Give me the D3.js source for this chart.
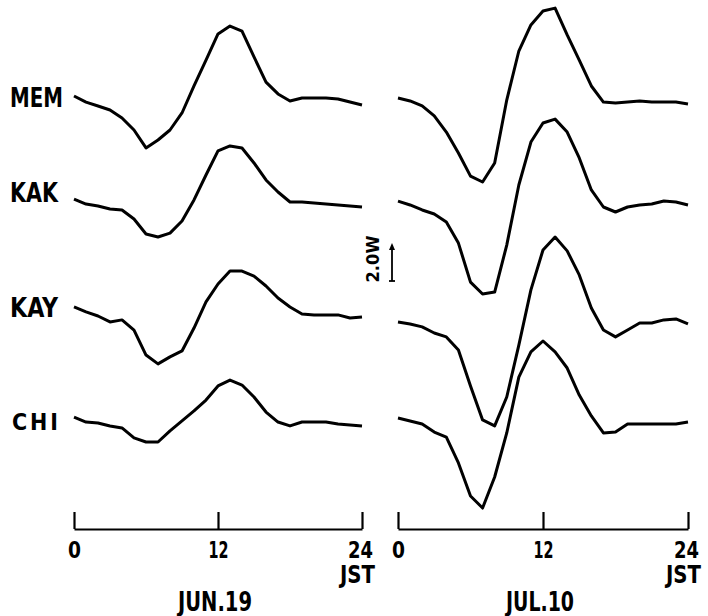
<!DOCTYPE html>
<html>
<head>
<meta charset="utf-8">
<script src="https://cdn.jsdelivr.net/npm/d3@7"></script>
<style>
  body { margin: 0; background: #fff; }
  svg { display: block; }
  .lbl { font-family: "DejaVu Sans Condensed", "DejaVu Sans", sans-serif; font-weight: bold; fill: #000; }
  .axis path, .axis line { stroke: #000; stroke-width: 2.2; }
</style>
</head>
<body>
<svg></svg>
<script>
const hours = [0, 1, 2, 3, 4, 5, 6, 7, 8, 9, 10, 11, 12, 13, 14, 15, 16, 17, 18, 19, 20, 21, 22, 23, 24];
const stations = ['MEM', 'KAK', 'KAY', 'CHI'];
const hourTicks = [0, 12, 24];
const days = ['JUN.19', 'JUL.10'];

// deviations in W, read hour by hour
const jun19MEM = [0.11, -0.22, -0.43, -0.65, -1.08, -1.73, -2.70, -2.27, -1.73, -0.81, 0.65, 2.05, 3.46, 3.89, 3.62, 2.22, 0.86, 0.22, -0.16, 0, 0, 0, -0.05, -0.22, -0.38];
const jun19KAK = [0.34, 0.07, -0.04, -0.20, -0.25, -0.74, -1.55, -1.71, -1.50, -0.85, 0.29, 1.64, 2.94, 3.21, 3.10, 2.29, 1.37, 0.72, 0.18, 0.18, 0.12, 0.07, 0.02, -0.04, -0.09];
const jun19KAY = [0.31, 0.04, -0.18, -0.50, -0.39, -0.94, -2.29, -2.77, -2.39, -2.07, -0.83, 0.58, 1.55, 2.25, 2.25, 1.98, 1.44, 0.79, 0.31, -0.07, -0.12, -0.12, -0.12, -0.29, -0.23];
const jun19CHI = [0.16, -0.11, -0.16, -0.32, -0.43, -0.97, -1.19, -1.19, -0.59, -0.05, 0.49, 1.08, 1.84, 2.16, 1.89, 1.24, 0.43, -0.11, -0.32, -0.11, -0.11, -0.11, -0.22, -0.27, -0.32];

const jul10MEM = [0, -0.16, -0.43, -0.97, -1.84, -2.97, -4.22, -4.54, -3.51, -0.11, 2.54, 3.95, 4.70, 4.86, 3.41, 2.05, 0.65, -0.22, -0.27, -0.22, -0.16, -0.22, -0.22, -0.22, -0.32];
const jul10KAK = [0.23, 0.02, -0.25, -0.47, -0.90, -2.04, -4.15, -4.79, -4.69, -2.15, 1.10, 3.42, 4.45, 4.66, 3.96, 2.56, 0.83, -0.09, -0.36, -0.09, 0.02, 0.07, 0.23, 0.18, 0.02];
const jul10KAY = [-0.50, -0.61, -0.77, -1.10, -1.31, -2.02, -3.96, -5.80, -6.12, -4.56, -1.75, 1.23, 3.39, 4.09, 3.34, 2.04, 0.25, -0.94, -1.31, -0.94, -0.56, -0.56, -0.39, -0.34, -0.61];
const jul10CHI = [0.11, -0.05, -0.22, -0.65, -0.92, -2.32, -4.11, -4.76, -3.08, -0.70, 2.32, 3.68, 4.27, 3.68, 2.81, 1.35, 0.22, -0.70, -0.65, -0.22, -0.22, -0.22, -0.22, -0.22, -0.11];

const scaleBar = 2.0;

const w = 708;
const h = 616;

const svg = d3.select('svg').attr('width', w).attr('height', h);

const panels = [
  { day: days[0], range: [74, 362], dayWidth: 74, series: [jun19MEM, jun19KAK, jun19KAY, jun19CHI] },
  { day: days[1], range: [398, 688], dayWidth: 68, series: [jul10MEM, jul10KAK, jul10KAY, jul10CHI] }
];

const row = d3.scalePoint().domain(stations).range([98, 420]);
const dev = d3.scaleLinear().domain([0, 2]).range([0, -37]);
const axisY = 529;

panels.forEach((p) => {
  const x = d3.scaleLinear().domain([0, 24]).range(p.range);

  stations.forEach((s, i) => {
    const line = d3.line()
      .x((d, j) => x(hours[j]))
      .y((d) => row(s) + dev(d));
    svg.append('path')
      .datum(p.series[i])
      .attr('d', line)
      .attr('fill', 'none')
      .attr('stroke', '#000')
      .attr('stroke-width', 3)
      .attr('stroke-linejoin', 'round');
  });

  const ax = svg.append('g')
    .attr('class', 'axis')
    .attr('transform', `translate(0, ${axisY})`)
    .call(d3.axisBottom(x).tickValues(hourTicks).tickSizeInner(-17).tickSizeOuter(0).tickPadding(13).tickFormat(d3.format('d')));
  ax.selectAll('.tick text')
    .attr('class', 'lbl')
    .style('font-size', '23px')
    .attr('dx', (d) => (d === 24 ? -2 : 0))
    .attr('textLength', (d) => (d === 0 ? 13 : d === 12 ? 20 : 25))
    .attr('lengthAdjust', 'spacingAndGlyphs');

  svg.append('text')
    .attr('class', 'lbl')
    .attr('x', x(24) + 13)
    .attr('y', 583)
    .attr('text-anchor', 'end')
    .attr('textLength', 35)
    .attr('lengthAdjust', 'spacingAndGlyphs')
    .style('font-size', '24px')
    .text('JST');

  svg.append('text')
    .attr('class', 'lbl')
    .attr('x', x(12) - 3)
    .attr('y', 611)
    .attr('text-anchor', 'middle')
    .attr('textLength', p.dayWidth)
    .attr('lengthAdjust', 'spacingAndGlyphs')
    .style('font-size', '26px')
    .text(p.day);
});

// station names
const labelY = [107, 202, 317, 430];
const labelW = [53, 48, 48, 46];
svg.selectAll('.station')
  .data(stations)
  .enter()
  .append('text')
  .attr('class', 'lbl station')
  .attr('x', (d) => (d === 'CHI' ? 12 : 10))
  .attr('y', (d, i) => labelY[i])
  .attr('textLength', (d, i) => labelW[i])
  .attr('lengthAdjust', (d) => (d === 'CHI' ? 'spacing' : 'spacingAndGlyphs'))
  .style('font-size', (d) => (d === 'CHI' ? '23px' : '26px'))
  .text((d) => d);

// 2.0W scale bar
const barX = 392;
const barBottom = 281;
const barTop = barBottom + dev(scaleBar);
const bar = svg.append('g');
bar.append('line')
  .attr('x1', barX).attr('x2', barX)
  .attr('y1', barBottom).attr('y2', barTop + 4)
  .attr('stroke', '#000').attr('stroke-width', 1.8);
bar.append('line')
  .attr('x1', barX - 3).attr('x2', barX + 3)
  .attr('y1', barBottom).attr('y2', barBottom)
  .attr('stroke', '#000').attr('stroke-width', 1.8);
bar.append('path')
  .attr('d', `M${barX - 3},${barTop + 6} L${barX},${barTop - 1} L${barX + 3},${barTop + 6} Z`)
  .attr('fill', '#000');
bar.append('text')
  .attr('class', 'lbl')
  .attr('transform', 'translate(379, 259) rotate(-90)')
  .attr('text-anchor', 'middle')
  .attr('textLength', 47)
  .attr('lengthAdjust', 'spacingAndGlyphs')
  .style('font-size', '17px')
  .text(`${scaleBar.toFixed(1)}W`);
</script>
</body>
</html>
